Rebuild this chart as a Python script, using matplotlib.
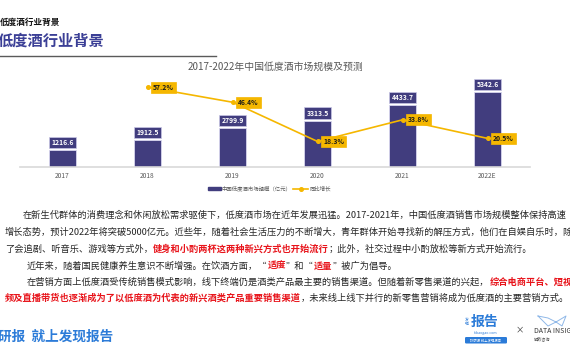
import matplotlib
matplotlib.use("Agg")
import matplotlib.pyplot as plt
from matplotlib.patches import Rectangle, FancyBboxPatch

plt.rcParams['font.family'] = ['Noto Sans CJK SC', 'DejaVu Sans']

years = ["2017", "2018", "2019", "2020", "2021", "2022E"]
market_size = [1216.6, 1912.5, 2799.9, 3313.5, 4433.7, 5342.6]
growth = [None, 57.2, 46.4, 18.3, 33.8, 20.5]
chart_title = "2017-2022年中国低度酒市场规模及预测"
legend_bar = "中国低度酒市场规模（亿元）"
legend_line = "同比增长"

BAR_C = "#413d7e"
LINE_C = "#f5b700"
RED = "#e8141b"
TXT = "#262626"

W, H = 570, 360
fig = plt.figure(figsize=(W / 100, H / 100), dpi=100)
bg = fig.add_axes([0, 0, 1, 1])
bg.set_xlim(0, W)
bg.set_ylim(H, 0)
bg.axis("off")

# header
bg.text(0, 22, "低度酒行业背景", fontsize=6.2, fontweight="bold", color="#111111", va="center", ha="left")
bg.text(-2, 41, "低度酒行业背景", fontsize=11, fontweight="bold", color="#3b3f96", va="center", ha="left")
bg.plot([0, 216], [55.5, 55.5], color="#5a5a5a", lw=1.0)
bg.text(275, 67, chart_title, fontsize=7.1, color="#595959", va="center", ha="center")

# chart axes
x0, x1, ybase, ytop = 20, 530, 167, 78
ax = fig.add_axes([x0 / W, (H - ybase) / H, (x1 - x0) / W, (ybase - ytop) / H])
ax.patch.set_alpha(0)
xs = list(range(len(years)))
ax.bar(xs, market_size, width=0.32, color=BAR_C, edgecolor="#d8d6ee", linewidth=0.6, zorder=2)
ax.set_xlim(-0.5, len(years) - 0.5)
ax.set_ylim(0, (ybase - ytop) * 71.5)
for s in ["top", "right", "left"]:
    ax.spines[s].set_visible(False)
ax.spines["bottom"].set_color("#d9d9d9")
ax.spines["bottom"].set_linewidth(1.2)
ax.set_yticks([])
ax.set_xticks(xs)
ax.set_xticklabels(years, fontsize=4.8, color="#595959")
ax.tick_params(axis="x", length=0, pad=3.5)
for x, v in zip(xs, market_size):
    ax.annotate(f"{v:.1f}", (x, v), xytext=(0, 5.5), textcoords="offset points",
                ha="center", va="center", fontsize=4.9, fontweight="bold", color="white",
                bbox=dict(boxstyle="square,pad=0.3", fc=BAR_C, ec="#c9c7e6", lw=0.5), zorder=4)

ax2 = ax.twinx()
ax2.set_ylim(0, (ybase - ytop) / 1.396)
ax2.axis("off")
gx = [x for x, g in zip(xs, growth) if g is not None]
gy = [g for g in growth if g is not None]
ax2.plot(gx, gy, color=LINE_C, lw=1.2, marker="o", ms=2.6, zorder=3)
for x, g in zip(gx, gy):
    ax2.annotate(f"{g:.1f}%", (x, g), xytext=(4, 0), textcoords="offset points",
                 ha="left", va="center", fontsize=4.9, fontweight="bold", color="#1a1a1a",
                 bbox=dict(boxstyle="square,pad=0.3", fc=LINE_C, ec=LINE_C, lw=0.5), zorder=5)

# legend
bg.add_patch(Rectangle((208, 186.5), 13, 3.8, color=BAR_C))
bg.text(222, 188.5, legend_bar, fontsize=3.9, color="#595959", va="center", ha="left")
bg.plot([293, 308], [188.5, 188.5], color=LINE_C, lw=1.2)
bg.plot([300.5], [188.5], marker="o", ms=2.6, color=LINE_C)
bg.text(310, 188.5, legend_line, fontsize=3.9, color="#595959", va="center", ha="left")

# paragraphs
renderer = fig.canvas.get_renderer()
FS = 6.65


def line(x, y, segs):
    for s, c in segs:
        bold = c == RED
        t = bg.text(x, y, s, fontsize=FS, color=c, fontweight="bold" if bold else "normal",
                    va="center", ha="left")
        bb = t.get_window_extent(renderer)
        x += bb.width


line(23, 215, [("在新生代群体的消费理念和休闲放松需求驱使下，低度酒市场在近年发展迅猛。2017-2021年，中国低度酒销售市场规模整体保持高速", TXT)])
line(5, 232, [("增长态势，预计2022年将突破5000亿元。近些年，随着社会生活压力的不断增大，青年群体开始寻找新的解压方式，他们在自娱自乐时，除", TXT)])
line(5, 249, [("了会追剧、听音乐、游戏等方式外，", TXT), ("健身和小酌两杯这两种新兴方式也开始流行", RED),
              ("；此外，社交过程中小酌放松等新方式开始流行。", TXT)])
line(27, 266, [("近年来，随着国民健康养生意识不断增强。在饮酒方面，“", TXT), ("适度", RED), ("”和“", TXT),
               ("适量", RED), ("”被广为倡导。", TXT)])
line(27, 282, [("在营销方面上低度酒受传统销售模式影响，线下终端仍是酒类产品最主要的销售渠道。但随着新零售渠道的兴起，", TXT),
               ("综合电商平台、短视", RED)])
line(5, 298, [("频及直播带货也逐渐成为了以低度酒为代表的新兴酒类产品重要销售渠道", RED),
              ("，未来线上线下并行的新零售营销将成为低度酒的主要营销方式。", TXT)])

# footer
bg.text(-2, 337, "研报  就上发现报告", fontsize=9.8, fontweight="bold", color="#2b7bd8", va="center", ha="left")
bg.text(467, 322, "发\n现", fontsize=2.8, color="#2b7bd8", va="center", ha="center", linespacing=1.0)
bg.text(471, 322, "报告", fontsize=10, fontweight="bold", color="#2b7bd8", va="center", ha="left")
bg.text(486, 333, "fxbaogao.com", fontsize=2.6, color="#2b7bd8", va="center", ha="center")
bg.add_patch(FancyBboxPatch((465, 337), 42, 6.5, boxstyle="round,pad=0,rounding_size=1.2",
                            fc="#2b7bd8", ec="none"))
bg.text(486, 340.3, "找研报 就上发现报告", fontsize=2.4, color="white", va="center", ha="center")
bg.text(520, 330, "×", fontsize=6, color="#333333", va="center", ha="center")
bg.plot([538, 548, 556, 566, 562, 556, 548, 538], [316, 326, 322, 316, 326, 322, 318, 316],
        color="#8fb8e8", lw=0.7)
bg.text(534, 331, "DATA INSIGHT", fontsize=5, color="#333333", va="center", ha="left")
bg.text(534, 339, "解数咨询", fontsize=3, color="#555555", va="center", ha="left")

fig.savefig("out.png", dpi=100)
